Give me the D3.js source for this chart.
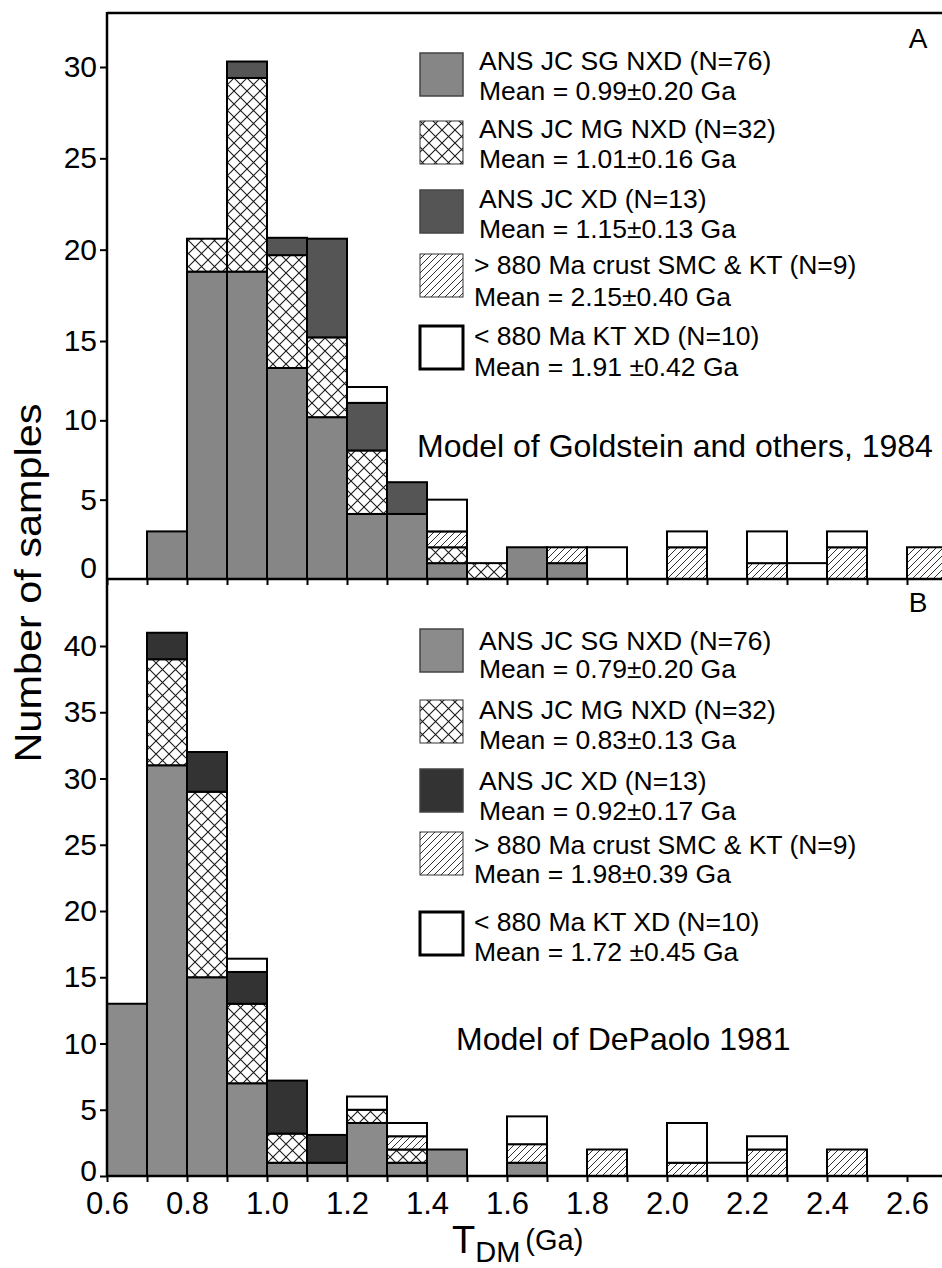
<!DOCTYPE html>
<html>
<head>
<meta charset="utf-8">
<script src="https://cdn.jsdelivr.net/npm/d3@7"></script>
<style>
  body { margin: 0; background: #fff; }
  svg { display: block; font-family: "Liberation Sans", Arial, sans-serif; }
</style>
</head>
<body>
<div id="chart"></div>
<script>
// T_DM bin starts (Ga), bins are 0.1 Ga wide
const binStarts = [0.6, 0.7, 0.8, 0.9, 1.0, 1.1, 1.2, 1.3, 1.4, 1.5, 1.6,
                   1.7, 1.8, 1.9, 2.0, 2.1, 2.2, 2.3, 2.4, 2.5, 2.6];

// Panel A - Goldstein and others, 1984
const sgA = [0, 3, 18.8, 18.8, 13.3, 10.2, 4.1, 4.1, 1, 0, 2, 1, 0, 0, 0, 0, 0, 0, 0, 0, 0];
const mgA = [0, 0, 1.8, 10.6, 6.4, 5, 4, 0, 1, 1, 0, 0, 0, 0, 0, 0, 0, 0, 0, 0, 0];
const xdA = [0, 0, 0, 0.9, 0.95, 5.4, 3, 2, 0, 0, 0, 0, 0, 0, 0, 0, 0, 0, 0, 0, 0];
const gtA = [0, 0, 0, 0, 0, 0, 0, 0, 1, 0, 0, 1, 0, 0, 2, 0, 1, 0, 2, 0, 2];
const ltA = [0, 0, 0, 0, 0, 0, 1, 0, 2, 0, 0, 0, 2, 0, 1, 0, 2, 1, 1, 0, 0];

// Panel B - DePaolo 1981
const sgB = [13, 31, 15, 7, 1, 1, 4, 1, 2, 0, 1, 0, 0, 0, 0, 0, 0, 0, 0, 0, 0];
const mgB = [0, 8, 14, 6, 2.2, 0, 1, 1, 0, 0, 0, 0, 0, 0, 0, 0, 0, 0, 0, 0, 0];
const xdB = [0, 2, 3, 2.4, 4, 2.1, 0, 0, 0, 0, 0, 0, 0, 0, 0, 0, 0, 0, 0, 0, 0];
const gtB = [0, 0, 0, 0, 0, 0, 0, 1, 0, 0, 1.4, 0, 2, 0, 1, 0, 2, 0, 2, 0, 0];
const ltB = [0, 0, 0, 1, 0, 0, 1, 1, 0, 0, 2.1, 0, 0, 0, 3, 1, 1, 0, 0, 0, 0];

const keys = ["SG", "MG", "XD", "GT", "LT"];
const groupNames = ["ANS JC SG NXD (N=76)", "ANS JC MG NXD (N=32)", "ANS JC XD (N=13)",
                    "> 880 Ma crust SMC & KT (N=9)", "< 880 Ma KT XD (N=10)"];
const meansA = ["Mean = 0.99\u00b10.20 Ga", "Mean = 1.01\u00b10.16 Ga", "Mean = 1.15\u00b10.13 Ga",
                "Mean = 2.15\u00b10.40 Ga", "Mean = 1.91 \u00b10.42 Ga"];
const meansB = ["Mean = 0.79\u00b10.20 Ga", "Mean = 0.83\u00b10.13 Ga", "Mean = 0.92\u00b10.17 Ga",
                "Mean = 1.98\u00b10.39 Ga", "Mean = 1.72 \u00b10.45 Ga"];
const ticksA = [0, 5, 10, 15, 20, 25, 30];
const ticksB = [0, 5, 10, 15, 20, 25, 30, 35, 40];
const xTicks = [0.6, 0.7, 0.8, 0.9, 1.0, 1.1, 1.2, 1.3, 1.4, 1.5, 1.6, 1.7,
                1.8, 1.9, 2.0, 2.1, 2.2, 2.3, 2.4, 2.5, 2.6, 2.7];

const width = 942, height = 1268;
const left = 107, topA = 13, baseA = 579, baseB = 1176;

const svg = d3.select("#chart").append("svg")
  .attr("width", width)
  .attr("height", height);

// hatch patterns
const defs = svg.append("defs");
const cross = defs.append("pattern").attr("id", "cross")
  .attr("patternUnits", "userSpaceOnUse").attr("width", 13).attr("height", 13);
cross.append("rect").attr("width", 13).attr("height", 13).attr("fill", "#fff");
cross.append("path").attr("d", "M0,0L13,13M13,0L0,13")
  .attr("stroke", "#1a1a1a").attr("stroke-width", 1.1);

const hatch = defs.append("pattern").attr("id", "hatch")
  .attr("patternUnits", "userSpaceOnUse").attr("width", 7).attr("height", 7);
hatch.append("rect").attr("width", 7).attr("height", 7).attr("fill", "#fff");
hatch.append("path").attr("d", "M-1,8L8,-1M-1,1L1,-1M6,8L8,6")
  .attr("stroke", "#1a1a1a").attr("stroke-width", 0.9);

const x = d3.scaleLinear().domain([0.6, 2.7]).range([left, 947]);
// axis of panel A is not evenly spaced in the original figure
const yA = d3.scaleLinear().domain([0, 15, 30]).range([baseA, 341, 67]);
const yB = d3.scaleLinear().domain([0, 40]).range([baseB, 646]);

const fillsA = {SG: "#868686", MG: "url(#cross)", XD: "#555555", GT: "url(#hatch)", LT: "#fff"};
const fillsB = {SG: "#8b8b8b", MG: "url(#cross)", XD: "#333333", GT: "url(#hatch)", LT: "#fff"};

function drawBars(series, y, fills) {
  const rows = binStarts.map((b, i) => {
    const r = {bin: b};
    keys.forEach((k, j) => r[k] = series[j][i]);
    return r;
  });
  const stacked = d3.stack().keys(keys)(rows);
  const g = svg.append("g");
  g.selectAll("g")
    .data(stacked)
    .join("g")
    .attr("fill", d => fills[d.key])
    .selectAll("rect")
    .data(d => d.filter(p => p[1] > p[0]))
    .join("rect")
    .attr("x", d => x(d.data.bin))
    .attr("width", d => x(d.data.bin + 0.1) - x(d.data.bin))
    .attr("y", d => y(d[1]))
    .attr("height", d => y(d[0]) - y(d[1]))
    .attr("stroke", "#000")
    .attr("stroke-width", 2);
}

drawBars([sgA, mgA, xdA, gtA, ltA], yA, fillsA);
drawBars([sgB, mgB, xdB, gtB, ltB], yB, fillsB);

// frame lines
svg.append("line").attr("x1", left).attr("x2", width).attr("y1", topA).attr("y2", topA)
  .attr("stroke", "#000").attr("stroke-width", 2.5);
svg.append("line").attr("x1", left).attr("x2", left).attr("y1", topA - 1).attr("y2", baseB + 1)
  .attr("stroke", "#000").attr("stroke-width", 2.5);

// y axes
function yAxis(scale, ticks) {
  const g = svg.append("g")
    .attr("transform", `translate(${left},0)`)
    .call(d3.axisLeft(scale).tickValues(ticks).tickSize(7).tickSizeOuter(0).tickPadding(3));
  g.select(".domain").remove();
  g.selectAll(".tick line").attr("stroke-width", 2);
  g.selectAll(".tick text").attr("font-size", 30).attr("font-family", "Liberation Sans, Arial, sans-serif").attr("fill", "#000");
  return g;
}
const gyA = yAxis(yA, ticksA);
gyA.selectAll(".tick").filter(d => d === 0).select("line").remove();
gyA.selectAll(".tick").filter(d => d === 0).select("text").attr("y", -11);
const gyB = yAxis(yB, ticksB);
gyB.selectAll(".tick").filter(d => d === 0).select("text").attr("y", -5);

// x axes (baseline of A / top of B, and bottom of B)
function xAxis(yPos, labels) {
  const g = svg.append("g")
    .attr("transform", `translate(0,${yPos})`)
    .call(d3.axisBottom(x).tickValues(xTicks).tickSize(6).tickSizeOuter(0).tickPadding(10)
      .tickFormat(d => labels && Math.round(d * 10) % 2 === 0 && d < 2.65 ? d3.format(".1f")(d) : ""));
  g.select(".domain").attr("stroke-width", 2.5).attr("d", `M${left},0H${width}`);
  g.selectAll(".tick line").attr("stroke-width", 2);
  g.selectAll(".tick text").attr("font-size", 31).attr("font-family", "Liberation Sans, Arial, sans-serif").attr("fill", "#000");
}
xAxis(baseA, false);
xAxis(baseB, true);

// legends
function legend(fills, means, rows) {
  const strokes = ["#444", "#333", "#444", "#333", "#000"];
  const sw = [1.5, 1, 1.5, 1, 3];
  rows.forEach((r, i) => {
    svg.append("rect").attr("x", 420).attr("y", r[0]).attr("width", 43).attr("height", 43)
      .attr("fill", fills[keys[i]]).attr("stroke", strokes[i]).attr("stroke-width", sw[i]);
    svg.append("text").attr("x", r[3]).attr("y", r[1]).attr("font-size", 26.5).text(groupNames[i]);
    svg.append("text").attr("x", r[3]).attr("y", r[2]).attr("font-size", 26.5).text(means[i]);
  });
}
legend(fillsA, meansA, [[53, 70, 100, 479], [121, 138, 168, 479], [190, 208, 238, 479],
                        [254, 274, 306, 474], [326, 345, 376, 474]]);
legend(fillsB, meansB, [[629, 650, 678, 479], [700, 719, 749, 479], [769, 790, 820, 479],
                        [832, 854, 883, 474], [912, 931, 961, 474]]);

// panel notes
svg.append("text").attr("x", 417).attr("y", 457).attr("font-size", 32)
  .text("Model of Goldstein and others, 1984");
svg.append("text").attr("x", 456).attr("y", 1050).attr("font-size", 32)
  .text("Model of DePaolo 1981");
svg.append("text").attr("x", 918).attr("y", 48).attr("font-size", 28).attr("text-anchor", "middle").text("A");
svg.append("text").attr("x", 918).attr("y", 612).attr("font-size", 28).attr("text-anchor", "middle").text("B");

// axis titles
svg.append("text")
  .attr("transform", "translate(41,583) rotate(-90) scale(1.12,1)")
  .attr("text-anchor", "middle")
  .attr("font-size", 37)
  .text("Number of samples");

const xt = svg.append("text").attr("x", 452).attr("y", 1253);
xt.append("tspan").attr("font-size", 38).text("T");
xt.append("tspan").attr("font-size", 29).attr("dy", 9).text("DM");
xt.append("tspan").attr("font-size", 29).attr("dy", -12).attr("dx", 5).text("(Ga)");
</script>
</body>
</html>
